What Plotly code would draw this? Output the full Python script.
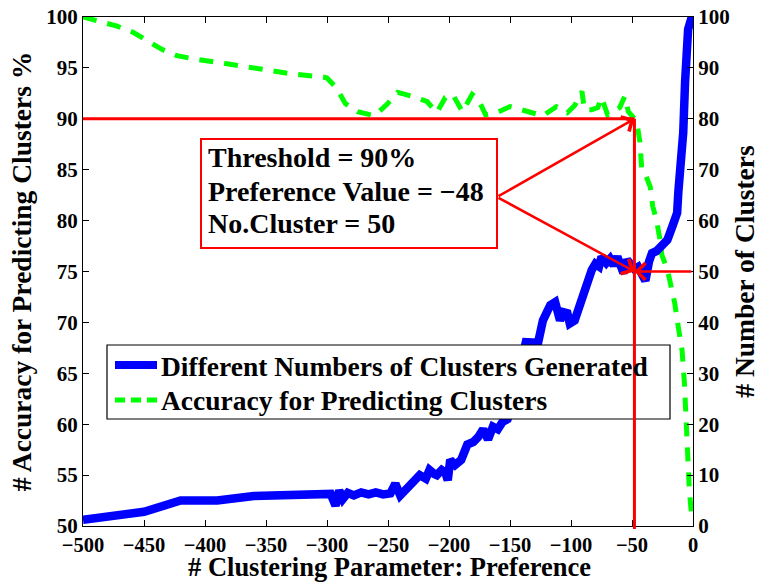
import plotly.graph_objects as go

# Preference sweep: number of clusters produced (right axis)
pref_clusters = [-500, -480, -450, -420, -390, -360, -300, -297, -293, -290, -287, -283,
                 -278, -272, -266, -260, -254, -248, -244, -240, -234, -229, -224, -219,
                 -216, -212, -210, -206, -203, -201, -199, -195, -190, -185, -180, -176,
                 -172, -168, -164, -160, -156, -152, -148, -144, -140, -137, -127, -123,
                 -117, -113, -109, -106, -103, -101, -97, -93, -89, -86, -83, -80, -77,
                 -75, -71, -68, -65, -62, -59, -57, -54, -51, -48, -45, -42, -39, -36,
                 -33.6, -30, -27, -24, -21, -17, -13, -12, -10.5, -8, -6.5, -6, -4, -1, 0]
n_clusters = [1.2, 2.0, 2.8, 5.0, 5.0, 5.9, 5.9, 6.3, 4.0, 7.0, 5.3, 6.5,
              6.0, 6.6, 6.2, 6.6, 6.2, 6.4, 8.3, 6.0, 7.5, 9.0, 10.0, 9.3,
              11.0, 10.2, 10.0, 11.0, 10.5, 9.0, 13.0, 12.0, 13.0, 16.0, 16.5, 17.5,
              19.0, 17.0, 19.5, 19.0, 20.5, 21.0, 24.0, 29.0, 34.0, 36.1, 36.0, 40.4,
              43.4, 44.0, 40.4, 42.0, 41.8, 39.8, 40.4, 43.5, 45.5, 48.7, 50.3, 51.5, 51.0,
              52.9, 51.7, 52.5, 51.2, 52.9, 51.5, 49.7, 52.3, 51.0, 50.5, 50.9, 49.0, 48.2, 52.0,
              53.6, 54.0, 54.8, 55.5, 56.2, 58.8, 61.5, 65.7, 69.4, 77.3, 87.2, 93.1, 97.6, 100, 100]

# Preference sweep: accuracy for predicting clusters, % (left axis)
pref_accuracy = [-500, -486, -472, -459, -447, -435, -423, -410, -382, -355, -328, -303,
                 -300, -292, -285, -275, -261, -251, -242, -230, -218, -210, -203, -197,
                 -189, -181, -176, -170, -161, -150, -136, -123, -112, -103, -97, -91,
                 -89, -83, -78, -75, -70, -60, -56, -53, -48, -46, -43.5, -42, -39.5,
                 -35, -33, -30, -27, -25.5, -21, -19, -15, -12, -9, -7, -6, -5, -4.5,
                 -4, -3, -1]
accuracy = [100, 99.6, 99.1, 98.5, 97.6, 96.8, 96.2, 95.9, 95.4, 94.9, 94.4, 94.1,
            94.0, 93.0, 91.5, 90.7, 90.3, 91.4, 92.6, 92.2, 91.7, 90.6, 92.1, 92.4,
            90.7, 92.4, 91.9, 90.4, 90.6, 91.2, 90.7, 90.3, 91.2, 90.6, 91.3, 92.7,
            90.9, 90.9, 91.1, 92.1, 90.4, 91.1, 92.2, 90.7, 90.0, 89.6, 87.7, 85.0, 84.7,
            83.3, 81.4, 80.1, 78.1, 76.6, 75.2, 74.2, 71.9, 69.5, 67.3, 64.0, 60.7, 59.2, 57.7,
            56.1, 53.5, 50.8]

# Selected operating point
THRESHOLD = 90
PREF_VALUE = -48
N_CLUSTER = 50

x_ticks = list(range(-500, 1, 50))
left_ticks = list(range(50, 101, 5))
right_ticks = list(range(0, 101, 10))

SERIES_NAMES = ["Different Numbers of Clusters Generated", "Accuracy for Predicting Clusters"]
BLUE, GREEN, RED = "#0000ff", "#00ff00", "#ff0000"
FONT = "'Liberation Serif', 'Times New Roman', Times, serif"

# plot area in pixels
W, H = 760, 583
L, R, T, B = 83, 67, 17, 57
PW, PH = W - L - R, H - T - B


def px_x(px):
    return (px - L) / PW


def px_y(py):
    return (H - B - py) / PH


fig = go.Figure()

fig.add_trace(go.Scatter(
    x=pref_clusters, y=n_clusters, yaxis="y2", mode="lines",
    name=SERIES_NAMES[0], showlegend=False,
    line=dict(color=BLUE, width=8.5),
))
fig.add_trace(go.Scatter(
    x=pref_accuracy, y=accuracy, yaxis="y", mode="lines",
    name=SERIES_NAMES[1], showlegend=False,
    line=dict(color=GREEN, width=5, dash="14px,11px"),
))

tick_font = dict(family=FONT, size=21, color="black", weight="bold")
title_font = dict(family=FONT, size=27.5, color="black", weight="bold")

axis_common = dict(
    showgrid=False, zeroline=False, showline=True, linecolor="black", linewidth=1,
    ticks="inside", ticklen=6, tickcolor="black", tickwidth=1,
    automargin=False,
)

fig.update_layout(
    width=W, height=H,
    margin=dict(l=L, r=R, t=T, b=B),
    paper_bgcolor="white", plot_bgcolor="white",
    font=dict(family=FONT, color="black"),
    showlegend=False,
    xaxis=dict(
        range=[-500, 0], tickmode="array", tickvals=x_ticks, mirror="ticks",
        tickfont=dict(family=FONT, size=20.5, color="black", weight="bold"),
        **axis_common,
    ),
    yaxis=dict(
        range=[50, 100], tickmode="array", tickvals=left_ticks, tickfont=tick_font,
        title=dict(text="# Accuracy for Predicting Clusters %", font=title_font, standoff=6),
        **axis_common,
    ),
    yaxis2=dict(
        range=[0, 100], tickmode="array", tickvals=right_ticks, tickfont=tick_font,
        overlaying="y", side="right",
        title=dict(text="# Number of Clusters", font=title_font, standoff=10),
        **axis_common,
    ),
)

# x-axis title placed just below the tick labels
fig.add_annotation(text="# Clustering Parameter: Preference", xref="paper", yref="paper",
                   x=0.5 * (px_x(178) + px_x(600)), y=px_y(567), xanchor="center",
                   yanchor="middle", showarrow=False,
                   font=dict(family=FONT, size=26.5, color="black", weight="bold"))

# Legend box with line samples
fig.add_shape(type="rect", xref="paper", yref="paper", x0=px_x(107), x1=px_x(670),
              y0=px_y(419), y1=px_y(345), line=dict(color="black", width=1.2),
              fillcolor="white", layer="above")
fig.add_shape(type="line", xref="paper", yref="paper", x0=px_x(115), x1=px_x(157),
              y0=px_y(365), y1=px_y(365), line=dict(color=BLUE, width=8), layer="above")
fig.add_shape(type="line", xref="paper", yref="paper", x0=px_x(115), x1=px_x(158),
              y0=px_y(400), y1=px_y(400), line=dict(color=GREEN, width=5, dash="10px,6px"),
              layer="above")
for name, ypx in zip(SERIES_NAMES, [366, 400]):
    fig.add_annotation(text=name, xref="paper", yref="paper", x=px_x(159), y=px_y(ypx),
                       xanchor="left", yanchor="middle", showarrow=False,
                       font=dict(family=FONT, size=27.5, color="black", weight="bold"))

# Threshold cross-hair
fig.add_shape(type="line", xref="x", yref="y", x0=-500, x1=PREF_VALUE,
              y0=THRESHOLD, y1=THRESHOLD, line=dict(color=RED, width=3))
fig.add_shape(type="line", xref="x", yref="paper", x0=PREF_VALUE, x1=PREF_VALUE,
              y0=px_y(529), y1=(THRESHOLD - 50) / 50, line=dict(color=RED, width=3))

# Text box
fig.add_shape(type="rect", xref="paper", yref="paper", x0=px_x(201), x1=px_x(497),
              y0=px_y(248), y1=px_y(139), line=dict(color=RED, width=2), fillcolor="white",
              layer="above")

lines = ["Threshold = %d%%" % THRESHOLD,
         "Preference Value = \u2212%d" % abs(PREF_VALUE),
         "No.Cluster = %d" % N_CLUSTER]
for txt, ypx in zip(lines, [158, 191, 223]):
    fig.add_annotation(text=txt, xref="paper", yref="paper", x=px_x(206),
                       y=px_y(ypx), xanchor="left", yanchor="middle",
                       showarrow=False, font=dict(family=FONT, size=28, color="black",
                                                  weight="bold"))

# Arrows from the box and from the right axis to the cross-hair
tail_x = -500 + px_x(497) * 500
tail_y = 50 + px_y(197) * 50
arrow_style = dict(text="", showarrow=True, arrowcolor=RED, arrowwidth=2.5,
                   arrowhead=4, arrowsize=1.3, standoff=0)
fig.add_annotation(x=PREF_VALUE, y=THRESHOLD, xref="x", yref="y",
                   ax=tail_x, ay=tail_y, axref="x", ayref="y", **arrow_style)
fig.add_annotation(x=PREF_VALUE, y=N_CLUSTER, xref="x", yref="y2",
                   ax=tail_x, ay=(tail_y - 50) * 2, axref="x", ayref="y2", **arrow_style)
fig.add_annotation(x=PREF_VALUE, y=N_CLUSTER, xref="x", yref="y2",
                   ax=0, ay=N_CLUSTER, axref="x", ayref="y2", **arrow_style)

fig.write_html("out.html")
